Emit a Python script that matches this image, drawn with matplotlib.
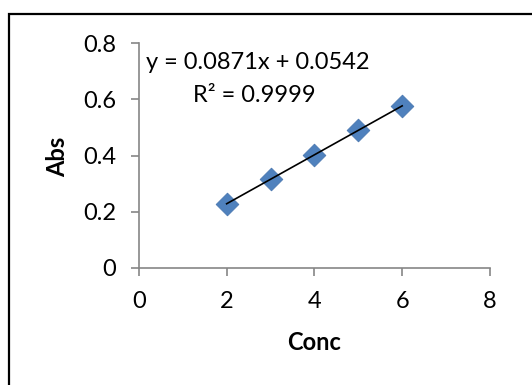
import matplotlib
matplotlib.use('Agg')
import matplotlib.pyplot as plt
from matplotlib.patches import Rectangle

# ── Data ─────────────────────────────────────────────────────────────────────
conc = [2, 3, 4, 5, 6]
absorbance = [0.228, 0.316, 0.402, 0.490, 0.577]
slope, intercept = 0.0871, 0.0542

x_ticks = [0, 2, 4, 6, 8]
y_ticks = [0, 0.2, 0.4, 0.6, 0.8]
y_tick_labels = ['0', '0.2', '0.4', '0.6', '0.8']

plt.rcParams['font.family'] = ['Lato', 'DejaVu Sans']

fig = plt.figure(figsize=(5.32, 3.85), dpi=100)
ax = fig.add_axes([0.261, 0.304, 0.66, 0.584])

# chart-area border (cropped on the right and bottom)
fig.patches.append(Rectangle((9 / 532, -0.05), 1.2, 1 - 14 / 385 + 0.05,
                             transform=fig.transFigure, fill=False,
                             edgecolor='black', linewidth=1.6))

# trendline across the data range
tx = [conc[0], conc[-1]]
ty = [slope * v + intercept for v in tx]
ax.plot(tx, ty, color='black', linewidth=1.2, zorder=3)

ax.scatter(conc, absorbance, marker='D', s=135, color='#4F81BD',
           edgecolors='#4573AD', linewidths=0.5, zorder=2)

ax.set_xlim(0, 8)
ax.set_ylim(0, 0.8)
ax.set_xticks(x_ticks)
ax.set_yticks(y_ticks)
ax.set_yticklabels(y_tick_labels)

for side in ['top', 'right']:
    ax.spines[side].set_visible(False)
for side in ['left', 'bottom']:
    ax.spines[side].set_color('#868686')
    ax.spines[side].set_linewidth(1.2)
ax.tick_params(direction='out', length=5.5, width=1.2, color='#868686',
               labelsize=17)
ax.tick_params(axis='y', pad=11)
ax.tick_params(axis='x', pad=11)

ax.set_xlabel('Conc', fontsize=17, fontweight='bold', va='center')
ax.xaxis.set_label_coords(0.5, -0.333)
ax.set_ylabel('Abs', fontsize=17, fontweight='bold', va='center')
ax.yaxis.set_label_coords(-0.231, 0.493)

ax.text(0.16, 0.732, f'y = {slope}x + {intercept}', fontsize=17,
        ha='left', va='center')
ax.text(2.64, 0.615, 'R² = 0.9999', fontsize=17, ha='center', va='center')

fig.savefig('out.png', dpi=100)
